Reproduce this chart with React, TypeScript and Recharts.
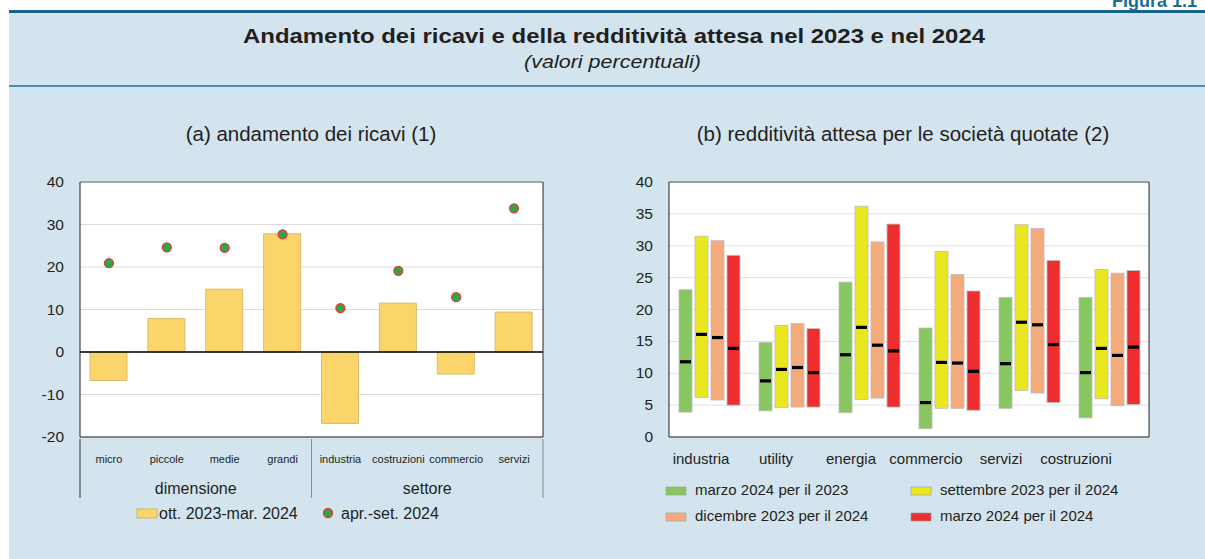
import React from "react";
import {
  ComposedChart,
  Bar,
  Line,
  XAxis,
  YAxis,
  CartesianGrid,
  ReferenceLine,
} from "recharts";

const FONT = '"Liberation Sans", Arial, Helvetica, sans-serif';

// (a) andamento dei ricavi
const RICAVI_CATS = ["micro", "piccole", "medie", "grandi", "industria", "costruzioni", "commercio", "servizi"];
const RICAVI_GROUPS = ["dimensione", "settore"];
const RICAVI_GROUP_START = [0, 4];
const RICAVI_OTT_MAR = [-6.7, 7.9, 14.8, 27.8, -16.8, 11.5, -5.2, 9.4];
const RICAVI_APR_SET = [20.9, 24.6, 24.5, 27.7, 10.3, 19.1, 12.9, 33.8];
const RICAVI_TICKS = [-20, -10, 0, 10, 20, 30, 40];

// (b) redditività attesa: min, max, mediana
const REDD_CATS = ["industria", "utility", "energia", "commercio", "servizi", "costruzioni"];
const MAR24_2023_LOW = [3.9, 4.1, 3.8, 1.3, 4.5, 3.0];
const MAR24_2023_HIGH = [23.1, 14.8, 24.3, 17.1, 21.9, 21.9];
const MAR24_2023_MED = [11.8, 8.8, 12.9, 5.4, 11.5, 10.1];
const SET23_2024_LOW = [6.2, 4.6, 5.9, 4.5, 7.3, 6.0];
const SET23_2024_HIGH = [31.5, 17.5, 36.2, 29.1, 33.3, 26.3];
const SET23_2024_MED = [16.1, 10.6, 17.2, 11.7, 18.0, 13.9];
const DIC23_2024_LOW = [5.8, 4.7, 6.1, 4.5, 6.9, 4.9];
const DIC23_2024_HIGH = [30.8, 17.8, 30.6, 25.5, 32.7, 25.7];
const DIC23_2024_MED = [15.6, 10.9, 14.4, 11.6, 17.6, 12.8];
const MAR24_2024_LOW = [5.0, 4.7, 4.7, 4.2, 5.4, 5.1];
const MAR24_2024_HIGH = [28.5, 17.0, 33.4, 22.9, 27.7, 26.1];
const MAR24_2024_MED = [13.9, 10.1, 13.5, 10.3, 14.5, 14.1];
const REDD_TICKS = [0, 5, 10, 15, 20, 25, 30, 35, 40];

const REDD_SERIES = [
  { key: "m23", name: "marzo 2024 per il 2023", color: "#88c660", low: MAR24_2023_LOW, high: MAR24_2023_HIGH, med: MAR24_2023_MED },
  { key: "s24", name: "settembre 2023 per il 2024", color: "#ebe71f", low: SET23_2024_LOW, high: SET23_2024_HIGH, med: SET23_2024_MED },
  { key: "d24", name: "dicembre 2023 per il 2024", color: "#f5aa7c", low: DIC23_2024_LOW, high: DIC23_2024_HIGH, med: DIC23_2024_MED },
  { key: "m24", name: "marzo 2024 per il 2024", color: "#ee2e2e", low: MAR24_2024_LOW, high: MAR24_2024_HIGH, med: MAR24_2024_MED },
];

const ricaviData = RICAVI_CATS.map((cat, i) => ({
  cat,
  ottMar: RICAVI_OTT_MAR[i],
  aprSet: RICAVI_APR_SET[i],
}));

const reddData = REDD_CATS.map((cat, i) => {
  const row: Record<string, any> = { cat };
  REDD_SERIES.forEach((s) => {
    row[s.key] = [s.low[i], s.high[i]];
    row[s.key + "Med"] = s.med[i];
  });
  return row;
});

const BAR_YELLOW = "#fbd56a";
const DOT_GREEN = "#28a84a";
const DOT_RED = "#e8393b";
const TEXT = "#231f20";

// layout
const LEFT_W = 600;
const LEFT_YW = 80;
const LEFT_RYW = 57;
const LEFT_BAND = (LEFT_W - LEFT_YW - LEFT_RYW) / RICAVI_CATS.length;

const tickText = (x: number, y: number, value: any, anchor: "end" | "start") => (
  <text x={x} y={y} dy={5} textAnchor={anchor} fontSize={15.5} fill={TEXT} fontFamily={FONT}>
    {value}
  </text>
);

function RicaviXTick(props: any) {
  const { x, y, payload } = props;
  const idx = RICAVI_CATS.indexOf(payload.value);
  const gi = RICAVI_GROUP_START.indexOf(idx);
  const isLast = idx === RICAVI_CATS.length - 1;
  return (
    <g>
      <text x={x} y={y + 24} textAnchor="middle" fontSize={11} fill={TEXT} fontFamily={FONT}>
        {payload.value}
      </text>
      {gi >= 0 && (
        <>
          <line
            x1={x - LEFT_BAND / 2}
            x2={x - LEFT_BAND / 2}
            y1={y}
            y2={y + 59}
            stroke={gi === 0 ? "#333" : "#8a8f94"}
            strokeWidth={1}
          />
          <text x={x - LEFT_BAND / 2 + LEFT_BAND * 2} y={y + 55} textAnchor="middle" fontSize={16} fill={TEXT} fontFamily={FONT}>
            {RICAVI_GROUPS[gi]}
          </text>
        </>
      )}
      {isLast && (
        <line x1={x + LEFT_BAND / 2} x2={x + LEFT_BAND / 2} y1={y} y2={y + 59} stroke="#8a8f94" strokeWidth={1} />
      )}
    </g>
  );
}

function ReddXTick(props: any) {
  const { x, y, payload } = props;
  const idx = REDD_CATS.indexOf(payload.value);
  return (
    <text x={x - 8 - idx * 5} y={y + 25} textAnchor="middle" fontSize={15} fill={TEXT} fontFamily={FONT}>
      {payload.value}
    </text>
  );
}

const rangeShape = (key: string, color: string) => (props: any) => {
  const { x, y, width, height, payload } = props;
  if (x == null || y == null) return null;
  const [lo, hi] = payload[key];
  const med = payload[key + "Med"];
  const my = y + (height * (hi - med)) / (hi - lo);
  return (
    <g>
      <rect x={x} y={y} width={width} height={height} fill={color} stroke="#bdbdbd" strokeWidth={0.8} />
      <rect x={x + 1} y={my - 1.6} width={width - 2} height={3.2} fill="#000" />
    </g>
  );
};

function RicaviChart() {
  return (
    <ComposedChart
      width={LEFT_W}
      height={370}
      data={ricaviData}
      margin={{ top: 12, right: 0, left: 0, bottom: 33 }}
    >
      <CartesianGrid vertical={false} fill="#fff" stroke="#dcdcdc" />
      <XAxis
        dataKey="cat"
        interval={0}
        height={70}
        tickLine={false}
        tickSize={0}
        axisLine={{ stroke: "#222" }}
        tick={RicaviXTick}
      />
      <YAxis
        domain={[-20, 40]}
        ticks={RICAVI_TICKS}
        width={LEFT_YW}
        tickLine={false}
        tickSize={0}
        axisLine={{ stroke: "#222" }}
        tick={(p: any) => tickText(p.x - 14, p.y, p.payload.value, "end")}
      />
      <YAxis
        yAxisId="r"
        orientation="right"
        domain={[-20, 40]}
        ticks={RICAVI_TICKS}
        width={LEFT_RYW}
        tickLine={false}
        tickSize={0}
        axisLine={{ stroke: "#222" }}
        tick={(p: any) => tickText(p.x + 37, p.y, p.payload.value, "end")}
      />
      <ReferenceLine y={40} stroke="#666" />
      <Bar
        dataKey="ottMar"
        barSize={37}
        fill={BAR_YELLOW}
        stroke="#d9bc6a"
        strokeWidth={1}
        isAnimationActive={false}
      />
      <ReferenceLine y={0} stroke="#000" strokeWidth={1.5} />
      <Line
        dataKey="aprSet"
        stroke="none"
        dot={{ r: 4.5, fill: DOT_GREEN, stroke: DOT_RED, strokeWidth: 1.3 }}
        activeDot={false}
        isAnimationActive={false}
      />
    </ComposedChart>
  );
}

function ReddChart() {
  return (
    <ComposedChart
      width={605}
      height={300}
      data={reddData}
      barGap={3}
      margin={{ top: 12, right: 0, left: 0, bottom: 0 }}
    >
      <CartesianGrid vertical={false} fill="#fff" stroke="#e0e0e0" />
      <XAxis
        dataKey="cat"
        interval={0}
        height={33}
        tickLine={false}
        tickSize={0}
        axisLine={{ stroke: "#222" }}
        tick={ReddXTick}
      />
      <YAxis
        domain={[0, 40]}
        ticks={REDD_TICKS}
        width={69}
        tickLine={false}
        tickSize={0}
        axisLine={{ stroke: "#222" }}
        tick={(p: any) => tickText(p.x - 14, p.y, p.payload.value, "end")}
      />
      <YAxis
        yAxisId="r"
        orientation="right"
        domain={[0, 40]}
        ticks={REDD_TICKS}
        width={56}
        tickLine={false}
        tickSize={0}
        axisLine={{ stroke: "#222" }}
        tick={(p: any) => tickText(p.x + 29, p.y, p.payload.value, "end")}
      />
      <ReferenceLine y={40} stroke="#555" />
      {REDD_SERIES.map((s) => (
        <Bar
          key={s.key}
          dataKey={s.key}
          name={s.name}
          barSize={13}
          fill={s.color}
          shape={rangeShape(s.key, s.color)}
          isAnimationActive={false}
        />
      ))}
    </ComposedChart>
  );
}

export default function App() {
  return (
    <div style={{ position: "absolute", left: 0, top: 0, width: 1205, height: 559, background: "#fff", overflow: "hidden", fontFamily: FONT }}>
      <svg width={1205} height={559} style={{ position: "absolute", left: 0, top: 0 }}>
        <rect x={9} y={10} width={1196} height={549} fill="#d3e4ee" />
        <rect x={9} y={10} width={1196} height={3} fill="#17638a" />
        <rect x={9} y={85} width={1196} height={2} fill="#4b8db0" />
        <text x={1112} y={7} fontSize={18} fontWeight="bold" fill="#1b6d93" fontFamily={FONT}>
          Figura 1.1
        </text>
        <text
          x={243}
          y={43}
          fontSize={21}
          fontWeight="bold"
          fill={TEXT}
          fontFamily={FONT}
          textLength={742}
          lengthAdjust="spacingAndGlyphs"
        >
          Andamento dei ricavi e della redditività attesa nel 2023 e nel 2024
        </text>
        <text
          x={524}
          y={68}
          fontSize={18}
          fontStyle="italic"
          fill={TEXT}
          fontFamily={FONT}
          textLength={177}
          lengthAdjust="spacingAndGlyphs"
        >
          (valori percentuali)
        </text>
        <text x={311} y={141} textAnchor="middle" fontSize={20.5} fill={TEXT} fontFamily={FONT}>
          (a) andamento dei ricavi (1)
        </text>
        <text x={903} y={141} textAnchor="middle" fontSize={20.5} fill={TEXT} fontFamily={FONT}>
          (b) redditività attesa per le società quotate (2)
        </text>

        {/* legend (a) */}
        <rect x={137} y={509} width={20} height={9} fill={BAR_YELLOW} stroke="#c9aa55" strokeWidth={0.8} />
        <text x={159} y={519} fontSize={16} fill={TEXT} fontFamily={FONT}>
          ott. 2023-mar. 2024
        </text>
        <circle cx={328} cy={513} r={4.5} fill={DOT_GREEN} stroke={DOT_RED} strokeWidth={1.3} />
        <text x={341} y={519} fontSize={16} fill={TEXT} fontFamily={FONT}>
          apr.-set. 2024
        </text>

        {/* legend (b) */}
        {REDD_SERIES.map((s, i) => {
          const col = i === 0 || i === 2 ? 0 : 1;
          const row = i < 2 ? 0 : 1;
          const x = col === 0 ? 666 : 911;
          const y = row === 0 ? 487 : 513;
          return (
            <g key={s.key}>
              <rect x={x} y={y} width={20} height={8} fill={s.color} stroke="#999" strokeWidth={0.6} />
              <text x={x + 29} y={y + 8} fontSize={15} fill={TEXT} fontFamily={FONT}>
                {s.name}
              </text>
            </g>
          );
        })}
      </svg>
      <div style={{ position: "absolute", left: 0, top: 170 }}>
        <RicaviChart />
      </div>
      <div style={{ position: "absolute", left: 600, top: 170 }}>
        <ReddChart />
      </div>
    </div>
  );
}
